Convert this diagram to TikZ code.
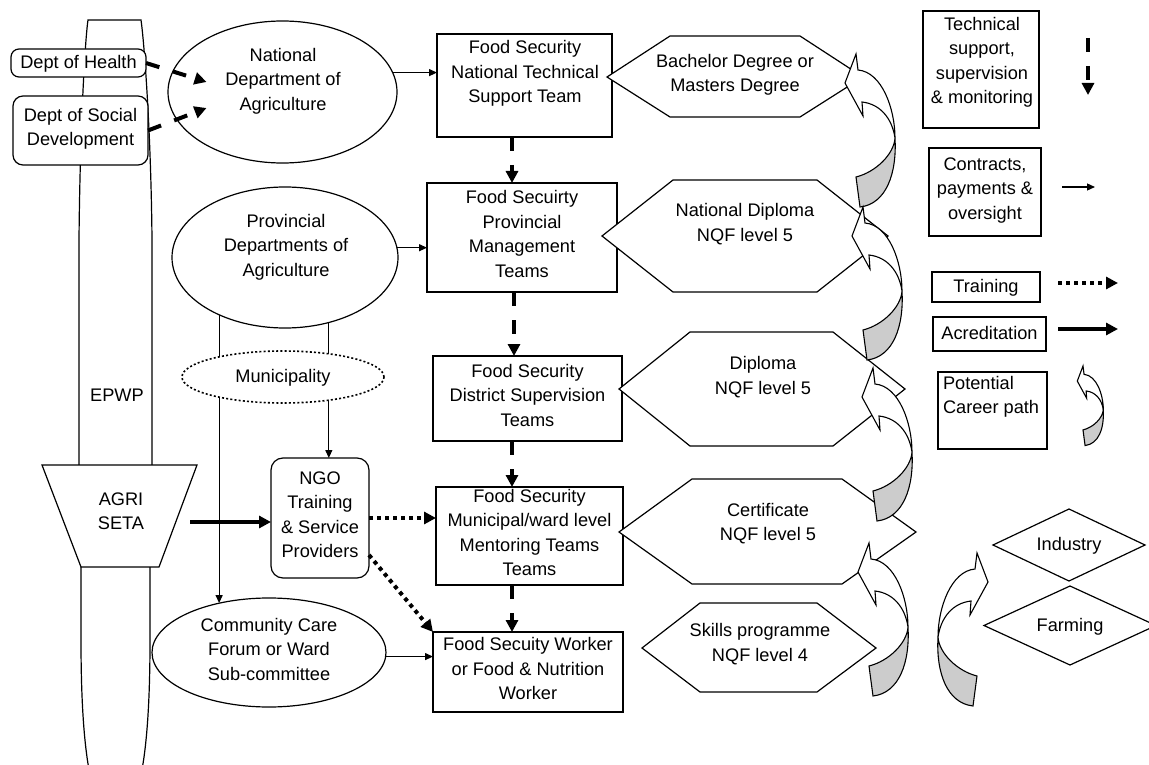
\documentclass[tikz,border=0pt]{standalone}
\usepackage{fontspec}
\setmainfont{Liberation Sans}
\usetikzlibrary{arrows.meta,shapes.geometric,calc}
% struts giving every text block the same top and bottom
\newcommand\nodeTopStrut{\rule{0pt}{17.75pt}}
\newcommand\nodeBotStrut{\rule[-6.75pt]{0pt}{6.75pt}}
\begin{document}
\begin{tikzpicture}[x=1pt,y=-1pt,
  lbl/.style={inner sep=0pt, outer sep=0pt, align=center,
    font=\fontsize{18.2}{24.5}\selectfont,
    execute at begin node=\nodeTopStrut, execute at end node=\nodeBotStrut},
  rectbox/.style={lbl, draw, line width=1.2pt, fill=white, rectangle},
  rbox/.style={rectbox, rounded corners=9pt},
  oval/.style={lbl, draw, line width=1.2pt, fill=white, ellipse},
  gem/.style={lbl, draw, line width=1.2pt, fill=white, diamond},
  hexa/.style={draw, line width=1.2pt, fill=white, line join=miter},
  edgeline/.style={line width=1.2pt},
  conn/.style={line width=1.2pt, -{Triangle[length=8pt,width=7pt]}},
  heavy/.style={line width=4pt, -{Triangle[length=12pt,width=12pt]}},
  dashedheavy/.style={heavy, dash pattern=on 14pt off 14pt},
  dottedheavy/.style={heavy, dash pattern=on 4pt off 4pt},
  career/.pic={
    \path[fill=white, draw, line width=1.1pt, line join=miter]
      (0,0) -- (-11,29) -- (7,62) -- (6,48)
      .. controls (24,50) and (36,64) .. (39,84)
      .. controls (39,55) and (26,18) .. (2,16) -- cycle;
    \path[fill=black!20, draw, line width=1.1pt, line join=miter]
      (39,84) .. controls (38,100) and (20,118) .. (0,123) -- (4,153)
      .. controls (30,150) and (41,120) .. (39,84) -- cycle;
  },
]
\useasboundingbox (0,0) rectangle (1149,765);

% EPWP / AGRI SETA column
\draw[edgeline] (79,465) -- (79,240) .. controls (80,130) and (85,40) .. (88,20)
  -- (141,20) .. controls (144,40) and (151,130) .. (152,240) -- (152,465);
\draw[edgeline, fill=white] (42,465) -- (197,465) -- (159,567) -- (81,567) -- cycle;
\draw[edgeline] (81,567) -- (81,640) .. controls (81,710) and (85,750) .. (90,775);
\draw[edgeline] (150,567) -- (150,640) .. controls (150,710) and (146,750) .. (141,775);
\node[lbl] (epwp) at (117,396) {EPWP};
\node[lbl] (seta) at (121,514.5) {AGRI\\SETA};
\coordinate (setaout) at (190,522);

% departments
\node[rbox, rounded corners=8pt, minimum width=135pt, minimum height=28pt] (health) at (78.5,63) {Dept of Health};
\node[rbox, rounded corners=10pt, minimum width=135pt, minimum height=69pt] (social) at (80.5,130.5) {Dept of Social\\Development};

\node[oval, minimum width=229pt, minimum height=142pt] (nda) at (282.5,92) {};
\node[lbl] (ndaT) at (283,82.5) {National\\Department of\\Agriculture};
\node[oval, minimum width=226pt, minimum height=141pt] (pda) at (285,257.5) {};
\node[lbl] (pdaT) at (286,248.3) {Provincial\\Departments of\\Agriculture};
\node[oval, minimum width=234pt, minimum height=109pt] (ccf) at (269,652.5) {Community Care\\Forum or Ward\\Sub-committee};
\node[rbox, rounded corners=12pt, minimum width=98pt, minimum height=120pt] (ngo) at (320,518) {NGO\\Training\\\& Service\\Providers};

% food security teams
\node[rectbox, minimum width=175pt, minimum height=103pt] (nts) at (524.5,85.5) {};
\node[lbl] (ntsT) at (525,75) {Food Security\\National Technical\\Support Team};
\node[rectbox, minimum width=190pt, minimum height=109pt] (pmt) at (522,237.5) {Food Secuirty\\Provincial\\Management\\Teams};
\node[rectbox, minimum width=189pt, minimum height=85pt] (dst) at (527.5,398.5) {Food Security\\District Supervision\\Teams};
\node[rectbox, minimum width=187pt, minimum height=98pt] (fsm) at (529.5,536) {Food Security\\Municipal/ward level\\Mentoring Teams\\Teams};
\node[rectbox, minimum width=190pt, minimum height=80pt] (fsw) at (528,672) {Food Secuity Worker\\or Food \& Nutrition\\Worker};

% connectors on the left
\draw[dashedheavy] (health.east) -- ([xshift=-76pt,yshift=10pt]nda.center);
\draw[dashedheavy] (social.east) -- ([xshift=-76pt,yshift=-16pt]nda.center);
\draw[conn] (nda.10) -- (nda.10 -| nts.west);
\draw[conn] (pda.5) -- (pda.5 -| pmt.west);
\draw[conn] (pda.221) -- (pda.221 |- ccf.135);
\draw[conn] (pda.304) -- (pda.304 |- ngo.north);
\node[oval, dash pattern=on 2pt off 2.2pt, line width=1.6pt, minimum width=202pt, minimum height=52pt] (mun) at (283,377) {Municipality};
\draw[heavy] (setaout) -- (setaout -| ngo.west);
\draw[dottedheavy] (ngo.east) -- (ngo.east -| fsm.west);
\draw[dottedheavy] ([yshift=-37pt]ngo.east) -- (fsw.north west);
\draw[conn] (ccf.-2) -- (ccf.-2 -| fsw.west);

% supervision chain
\coordinate (v1) at ([xshift=-12.5pt]nts.south);
\coordinate (v2) at ([xshift=-8pt]pmt.south);
\coordinate (v3) at ([xshift=-15.5pt]dst.south);
\coordinate (v4) at ([xshift=-17.5pt]fsm.south);
\draw[dashedheavy] (v1) -- (v1 |- pmt.north);
\draw[dashedheavy] (v2) -- (v2 |- dst.north);
\draw[dashedheavy] (v3) -- (v3 |- fsm.north);
\draw[dashedheavy] (v4) -- (v4 |- fsw.north);

% qualifications
\draw[hexa] (607,77) -- (670,36) -- (800,36) -- (863,77) -- (800,117) -- (670,117) -- cycle;
\node[lbl] (bach) at (735,76.5) {Bachelor Degree or\\Masters Degree};
\draw[hexa] (602,236) -- (673,180) -- (817,180) -- (888,236) -- (817,292) -- (673,292) -- cycle;
\node[lbl] (natdip) at (745,226) {National Diploma\\NQF level 5};
\draw[hexa] (619,389) -- (690,332) -- (833,332) -- (905,389) -- (833,446) -- (690,446) -- cycle;
\node[lbl] (dip) at (763,379) {Diploma\\NQF level 5};
\draw[hexa] (619,532) -- (692,479) -- (842,479) -- (916,532) -- (842,584) -- (692,584) -- cycle;
\node[lbl] (cert) at (768,525.5) {Certificate\\NQF level 5};
\draw[hexa] (642,648) -- (700,603) -- (817,603) -- (876,648) -- (817,692) -- (700,692) -- cycle;
\node[lbl] (skills) at (760,646) {Skills programme\\NQF level 4};

% career path arrows
\pic at (856,54) {career};
\pic at (863,207) {career};
\pic at (873,368) {career};
\pic at (869,543) {career};
\pic[xscale=-1] at (977,553) {career};

% outlets
\node[gem, aspect=2.11, minimum width=152pt, minimum height=72pt] (ind) at (1069,545) {Industry};
\node[gem, aspect=2.18, minimum width=172pt, minimum height=79pt] (farm) at (1070,625.5) {Farming};

% key
\node[rectbox, minimum width=116pt, minimum height=117pt] (kts) at (981,69.5) {};
\node[lbl] (ktsT) at (982,64) {Technical\\support,\\supervision\\\& monitoring};
\node[rectbox, minimum width=112pt, minimum height=88pt] (kct) at (985,192) {Contracts,\\payments \&\\oversight};
\node[rectbox, minimum width=108pt, minimum height=30pt] (ktr) at (986,287) {Training};
\node[rectbox, minimum width=113pt, minimum height=34pt] (kac) at (989.5,334) {Acreditation};
\node[rectbox, minimum width=109pt, minimum height=77pt] (kpc) at (992.5,410.5) {};
\node[lbl, align=left, anchor=north west] (kpcT) at (943,376.25) {Potential\\Career path};

\coordinate (k1a) at (1088,38);  \coordinate (k1b) at (1088,95);
\coordinate (k2a) at (1062,187); \coordinate (k2b) at (1095,187);
\coordinate (k3a) at (1058,283); \coordinate (k3b) at (1118,283);
\coordinate (k4a) at (1058,329); \coordinate (k4b) at (1118,329);
\draw[dashedheavy] (k1a) -- (k1b);
\draw[conn] (k2a) -- (k2b);
\draw[dottedheavy] (k3a) -- (k3b);
\draw[heavy] (k4a) -- (k4b);
\pic[scale=0.52] at (1083,366) {career};
\end{tikzpicture}
\end{document}
